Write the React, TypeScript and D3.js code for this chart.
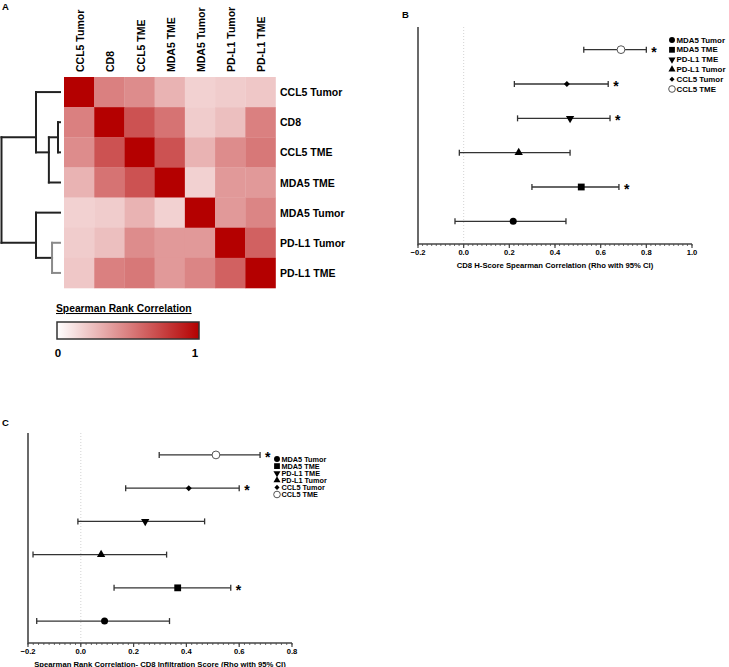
import * as d3 from 'd3'

const FONT = '"Liberation Sans", Arial, Helvetica, sans-serif'

// ---- panel A: correlation heatmap ----
const genes = ['CCL5 Tumor', 'CD8', 'CCL5 TME', 'MDA5 TME', 'MDA5 Tumor', 'PD-L1 Tumor', 'PD-L1 TME']

const corr = [
  [1, 0.5, 0.45, 0.3, 0.18, 0.2, 0.22],
  [0.5, 1, 0.68, 0.55, 0.2, 0.25, 0.5],
  [0.45, 0.68, 1, 0.68, 0.3, 0.45, 0.53],
  [0.3, 0.55, 0.68, 1, 0.18, 0.4, 0.4],
  [0.18, 0.2, 0.3, 0.18, 1, 0.4, 0.48],
  [0.2, 0.25, 0.45, 0.4, 0.4, 1, 0.62],
  [0.22, 0.5, 0.53, 0.4, 0.48, 0.62, 1],
]

type DNode = { h: number; leaf?: number; gray?: boolean; children?: DNode[] }

// merge heights of the row clustering
const dendroTree: DNode = {
  h: 1,
  children: [
    {
      h: 0.41,
      children: [
        { h: 0, leaf: 0 },
        {
          h: 0.19,
          children: [
            { h: 0.034, children: [{ h: 0, leaf: 1 }, { h: 0, leaf: 2 }] },
            { h: 0, leaf: 3 },
          ],
        },
      ],
    },
    {
      h: 0.41,
      children: [
        { h: 0, leaf: 4 },
        { h: 0.136, gray: true, children: [{ h: 0, leaf: 5 }, { h: 0, leaf: 6 }] },
      ],
    },
  ],
}

const legendTicks = ['0', '1']

// ---- panels B and C: forest plots ----
const forestRows = ['CCL5 TME', 'CCL5 Tumor', 'PD-L1 TME', 'PD-L1 Tumor', 'MDA5 TME', 'MDA5 Tumor']
const legendOrder = ['MDA5 Tumor', 'MDA5 TME', 'PD-L1 TME', 'PD-L1 Tumor', 'CCL5 Tumor', 'CCL5 TME']
const markerShape: Record<string, string> = {
  'MDA5 Tumor': 'circle',
  'MDA5 TME': 'square',
  'PD-L1 TME': 'down',
  'PD-L1 Tumor': 'up',
  'CCL5 Tumor': 'diamond',
  'CCL5 TME': 'open',
}

const hscoreRho = [0.689, 0.452, 0.466, 0.241, 0.515, 0.217]
const hscoreLow = [0.526, 0.222, 0.236, -0.019, 0.299, -0.038]
const hscoreHigh = [0.8, 0.633, 0.641, 0.466, 0.68, 0.448]
const hscoreSig = [true, true, true, false, true, false]
const hscoreTicks = [-0.2, 0, 0.2, 0.4, 0.6, 0.8, 1.0]

const infilRho = [0.512, 0.409, 0.244, 0.077, 0.367, 0.09]
const infilLow = [0.297, 0.17, -0.011, -0.181, 0.126, -0.167]
const infilHigh = [0.679, 0.6, 0.469, 0.325, 0.568, 0.336]
const infilSig = [true, true, false, false, true, false]
const infilTicks = [-0.2, 0, 0.2, 0.4, 0.6, 0.8]

const color = d3.scaleLinear<string>().domain([0, 1]).range(['#ffffff', '#b40000']).interpolate(d3.interpolateRgb)

function Marker({ name, x, y, k = 1 }: { name: string; x: number; y: number; k?: number }) {
  const shape = markerShape[name]
  const t = `translate(${x},${y})`
  if (shape === 'circle') return <circle cx={x} cy={y} r={3.5 * k} fill="#000" />
  if (shape === 'open') return <circle cx={x} cy={y} r={3.9 * k} fill="#fff" stroke="#555" strokeWidth={1} />
  if (shape === 'square') return <rect x={x - 3.4 * k} y={y - 3.4 * k} width={6.8 * k} height={6.8 * k} fill="#000" />
  if (shape === 'up') {
    const p = d3.symbol(d3.symbolTriangle, 30 * k * k)() as string
    return <path d={p} transform={t} fill="#000" />
  }
  if (shape === 'down') {
    const p = d3.symbol(d3.symbolTriangle, 30 * k * k)() as string
    return <path d={p} transform={`${t} rotate(180)`} fill="#000" />
  }
  const p = d3.symbol(d3.symbolSquare, 18 * k * k)() as string
  return <path d={p} transform={`${t} rotate(45)`} fill="#000" />
}

function Heatmap() {
  const x = d3.scaleBand().domain(genes).range([64, 275.5])
  const y = d3.scaleBand().domain(genes).range([77, 288])
  const bw = x.bandwidth()

  const root = d3.hierarchy(dendroTree)
  const hx = d3.scaleLinear().domain([0, 1]).range([60, 1.5])
  const nodeY = (n: d3.HierarchyNode<DNode>) =>
    d3.mean(n.leaves(), (l) => (y(genes[l.data.leaf as number]) as number) + y.bandwidth() / 2) as number

  const segs: { x1: number; y1: number; x2: number; y2: number; gray: boolean }[] = []
  root.each((n) => {
    if (!n.children) return
    const nx = hx(n.data.h)
    const ys = n.children.map(nodeY)
    const g = !!n.data.gray
    segs.push({ x1: nx, y1: d3.min(ys) as number, x2: nx, y2: d3.max(ys) as number, gray: g })
    n.children.forEach((c, i) => {
      segs.push({ x1: nx, y1: ys[i], x2: hx(c.data.h), y2: ys[i], gray: g })
    })
  })

  const stops = d3.range(11).map((i) => i / 10)

  return (
    <g>
      <text x={2} y={10} fontSize={9.5} fontWeight="bold">A</text>
      {corr.map((row, i) =>
        row.map((v, j) => (
          <rect
            key={`${i}-${j}`}
            x={x(genes[j])}
            y={y(genes[i])}
            width={bw + 0.3}
            height={y.bandwidth() + 0.3}
            fill={color(v)}
          />
        ))
      )}
      {genes.map((g) => (
        <text
          key={`c-${g}`}
          transform={`translate(${(x(g) as number) + bw / 2 + 1},72) rotate(-90)`}
          fontSize={10.5}
          fontWeight="bold"
          dominantBaseline="central"
        >
          {g}
        </text>
      ))}
      {genes.map((g) => (
        <text
          key={`r-${g}`}
          x={280}
          y={(y(g) as number) + y.bandwidth() / 2}
          fontSize={10.5}
          fontWeight="bold"
          dominantBaseline="central"
        >
          {g}
        </text>
      ))}
      {segs.map((s, i) => (
        <line
          key={i}
          x1={s.x1}
          y1={s.y1}
          x2={s.x2}
          y2={s.y2}
          stroke={s.gray ? '#8a8a8a' : '#222'}
          strokeWidth={2}
          strokeLinecap="square"
        />
      ))}
      <defs>
        <linearGradient id="corrGrad" x1="0" x2="1" y1="0" y2="0">
          {stops.map((s) => (
            <stop key={s} offset={s} stopColor={color(s)} />
          ))}
        </linearGradient>
      </defs>
      <text x={56} y={312} fontSize={10.3} fontWeight="bold" textDecoration="underline">
        Spearman Rank Correlation
      </text>
      <rect x={57} y={322} width={142} height={17} fill="url(#corrGrad)" stroke="#333" strokeWidth={1.5} />
      <text x={58} y={357} fontSize={11.5} fontWeight="bold" textAnchor="middle">{legendTicks[0]}</text>
      <text x={195} y={357} fontSize={11.5} fontWeight="bold" textAnchor="middle">{legendTicks[1]}</text>
    </g>
  )
}

type ForestProps = {
  x0: number
  x1: number
  y0: number
  y1: number
  ticks: number[]
  rho: number[]
  low: number[]
  high: number[]
  sig: boolean[]
  title: string
  legendX: number
  legendY: number
  legendStep: number
  legendFont: number
}

function Forest(p: ForestProps) {
  const domain = [p.ticks[0], p.ticks[p.ticks.length - 1]]
  const x = d3.scaleLinear().domain(domain).range([p.x0, p.x1])
  const y = d3.scalePoint().domain(forestRows).range([p.y0, p.y1]).padding(0.66)
  const minor = d3.range(Math.round((domain[1] - domain[0]) / 0.02) + 1).map((i) => domain[0] + i * 0.02)
  const axisColor = '#444'
  return (
    <g>
      <line x1={x(0)} x2={x(0)} y1={p.y0} y2={p.y1} stroke="#c8c8c8" strokeWidth={0.8} strokeDasharray="1,2" />
      <line x1={p.x0} x2={p.x0} y1={p.y0} y2={p.y1 + 0.8} stroke={axisColor} strokeWidth={1.6} />
      <line x1={p.x0} x2={p.x1} y1={p.y1} y2={p.y1} stroke={axisColor} strokeWidth={1.6} />
      {minor.map((m) => (
        <line key={m} x1={x(m)} x2={x(m)} y1={p.y1} y2={p.y1 + 2} stroke={axisColor} strokeWidth={0.8} />
      ))}
      {p.ticks.map((t) => (
        <g key={t}>
          <line x1={x(t)} x2={x(t)} y1={p.y1} y2={p.y1 + 4} stroke={axisColor} strokeWidth={1.2} />
          <text x={x(t)} y={p.y1 + 11} fontSize={7.6} fontWeight="bold" textAnchor="middle">
            {d3.format('.1f')(t)}
          </text>
        </g>
      ))}
      <text x={(p.x0 + p.x1) / 2} y={p.y1 + 23.5} fontSize={7.7} fontWeight="bold" textAnchor="middle">
        {p.title}
      </text>
      {forestRows.map((r, i) => {
        const yy = y(r) as number
        return (
          <g key={r}>
            <line x1={x(p.low[i])} x2={x(p.high[i])} y1={yy} y2={yy} stroke="#333" strokeWidth={1.3} />
            <line x1={x(p.low[i])} x2={x(p.low[i])} y1={yy - 3} y2={yy + 3} stroke="#333" strokeWidth={1.3} />
            <line x1={x(p.high[i])} x2={x(p.high[i])} y1={yy - 3} y2={yy + 3} stroke="#333" strokeWidth={1.3} />
            <Marker name={r} x={x(p.rho[i])} y={yy} />
            {p.sig[i] && (
              <text x={x(p.high[i]) + 5} y={yy + 7} fontSize={14} fontWeight="bold">
                *
              </text>
            )}
          </g>
        )
      })}
      {legendOrder.map((r, i) => {
        const ly = p.legendY + i * p.legendStep
        return (
          <g key={`lg-${r}`}>
            <Marker name={r} x={p.legendX} y={ly} k={0.85} />
            <text x={p.legendX + 4.5} y={ly} fontSize={p.legendFont} fontWeight="bold" dominantBaseline="central">
              {r}
            </text>
          </g>
        )
      })}
    </g>
  )
}

export default function App() {
  return (
    <svg
      width={729}
      height={667}
      style={{ display: 'block', position: 'absolute', left: 0, top: 0, fontFamily: FONT }}
    >
      <rect width={729} height={667} fill="#fff" />
      <Heatmap />
      <text x={402} y={18} fontSize={9.5} fontWeight="bold">B</text>
      <Forest
        x0={418}
        x1={692}
        y0={27}
        y1={244}
        ticks={hscoreTicks}
        rho={hscoreRho}
        low={hscoreLow}
        high={hscoreHigh}
        sig={hscoreSig}
        title="CD8 H-Score Spearman Correlation (Rho with 95% CI)"
        legendX={672}
        legendY={40}
        legendStep={9.8}
        legendFont={7.9}
      />
      <text x={2} y={426} fontSize={9.5} fontWeight="bold">C</text>
      <Forest
        x0={28}
        x1={292}
        y0={433}
        y1={643}
        ticks={infilTicks}
        rho={infilRho}
        low={infilLow}
        high={infilHigh}
        sig={infilSig}
        title="Spearman Rank Correlation- CD8 Infiltration Score (Rho with 95% CI)"
        legendX={277}
        legendY={459}
        legendStep={7.1}
        legendFont={7.3}
      />
    </svg>
  )
}
